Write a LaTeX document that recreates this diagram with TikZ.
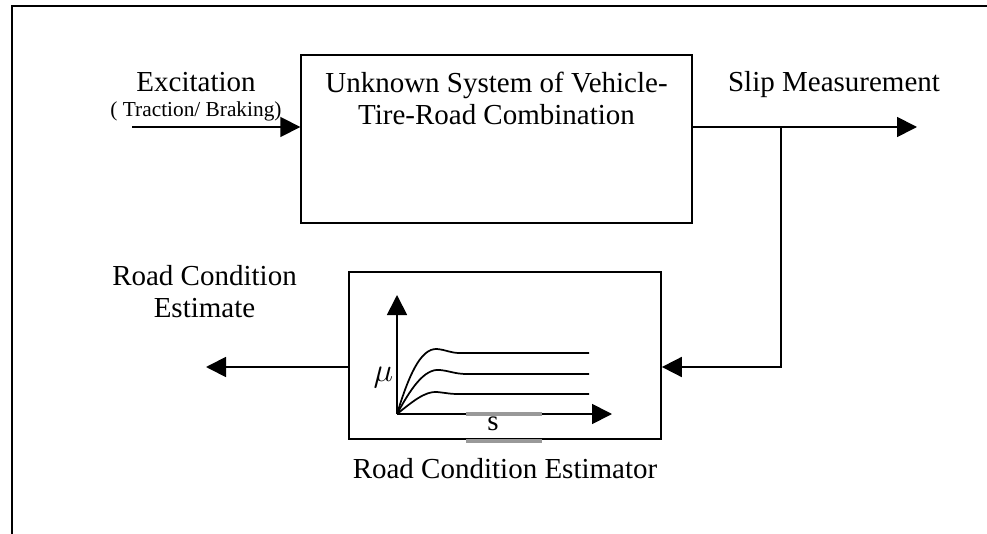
\documentclass[tikz,border=0pt]{standalone}
\usepackage{fontspec}
\setmainfont{Liberation Serif}
\usetikzlibrary{positioning, arrows.meta}
\newcommand{\Friction}{\mu}
\newcommand{\Slip}{s}

\begin{document}
\begin{tikzpicture}[x=0.75pt,y=-0.75pt,line width=1.3pt,>={Triangle[length=15pt,width=15pt]},
    font=\fontsize{21.75}{24}\selectfont,
    block/.style={draw, inner sep=0pt},
    caption/.style={anchor=base, inner sep=0pt, align=center},
    smallcaption/.style={caption, font=\fontsize{16}{18}\selectfont},
    marker/.style={draw=black!40, line width=3pt}]
                \useasboundingbox (0,0) rectangle (987,534);
                % Frame
                \draw (987,5.7) -- (11.7,5.7) -- (11.7,534);

                % Nodes
                \node[block, minimum width=293pt, minimum height=126pt] (Plant) at (496.5,139) {};
                \node[caption] (PlantText) at (496.5,125) {Unknown System of Vehicle-\\Tire-Road Combination};

                \node[block, minimum width=234pt, minimum height=125pt] (Estimator) at (505,355.5) {};
                \node[caption] (EstimatorText) at (505,478) {Road Condition Estimator};

                \node[caption] (Excitation) at (196,92) {Excitation};
                \node[smallcaption] (ExcitationSub) at (196,117) {( Traction/ Braking)};
                \node[caption] (SlipText) at (834,92) {Slip Measurement};
                \node[caption] (EstimateText) at (204.5,317) {Road Condition\\Estimate};

                \coordinate (ExcStart) at (132,127);
                \coordinate (SlipEnd) at (917,127);
                \coordinate (Branch) at (781,127);
                \coordinate (Tap) at (781,367);
                \coordinate (EstimateEnd) at (206,367);

                % Arrows
                \draw[->] (ExcStart) -- (ExcStart -| Plant.west);
                \draw[->] (Plant.east |- SlipEnd) -- (SlipEnd);
                \draw[->] (Branch) -- (Tap) -- (Tap -| Estimator.east);
                \draw[->] (EstimateEnd -| Estimator.west) -- (EstimateEnd);

                % Friction curves
                \coordinate (Origin) at (397,414);
                \coordinate (MuTip) at (397,295);
                \coordinate (SlipTip) at (612,414);
                \draw (Origin) .. controls (408,378) and (420,348) .. (437,349)
                      .. controls (447,350) and (450,353) .. (460,353) -- (589,353);
                \draw (Origin) .. controls (410,390) and (424,368) .. (440,370)
                      .. controls (450,371) and (455,374) .. (467,374) -- (589,374);
                \draw (Origin) .. controls (412,402) and (425,391) .. (437,392)
                      .. controls (447,393) and (450,394) .. (457,394) -- (589,394);
                \draw[->] (Origin) -- (MuTip);
                \draw[->] (Origin) -- (SlipTip);
                \node[font=\fontsize{26}{28}\selectfont, inner sep=0pt] (MuText) at (383.5,378) {$\Friction$};
                \node[caption] (SlipAxis) at (493,430) {\Slip};

                % Gray marks
                \draw[marker] (466,414) -- (542,414);
                \draw[marker] (466,440.5) -- (542,440.5);
              \end{tikzpicture}
\end{document}
